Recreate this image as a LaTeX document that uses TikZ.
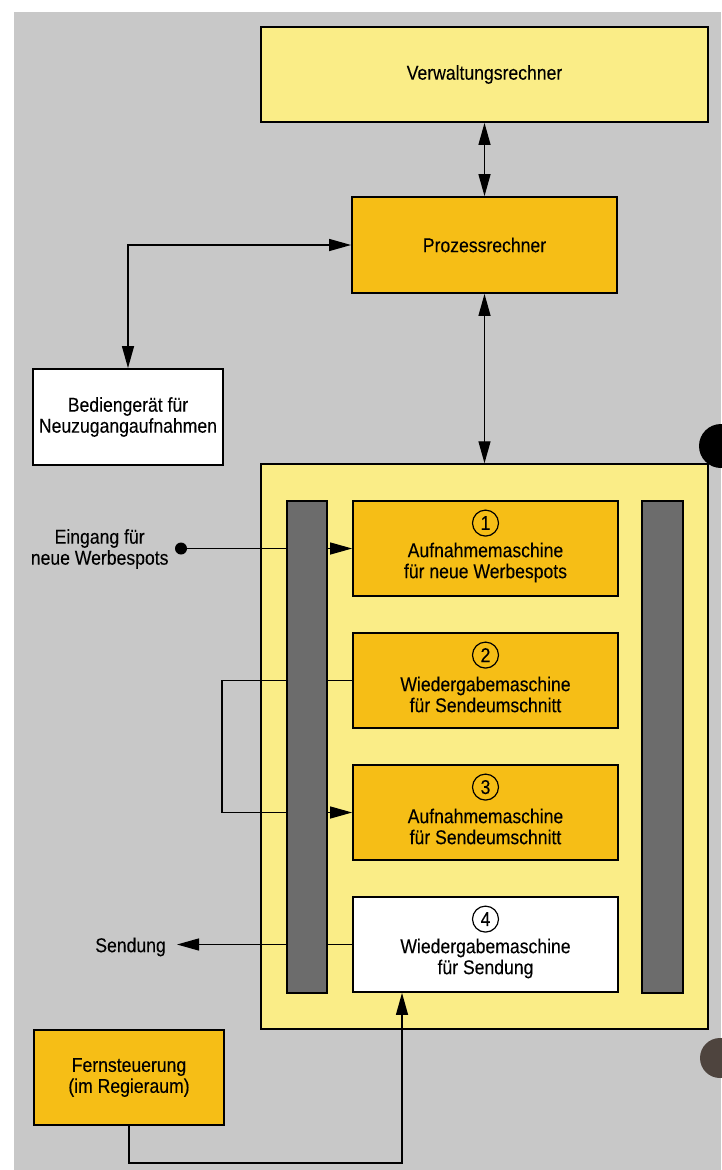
\documentclass[tikz,border=0pt]{standalone}
\usepackage{fontspec}
\setmainfont{Liberation Sans}[FakeStretch=0.88,FakeBold=0.1]
\usetikzlibrary{arrows.meta}
\definecolor{bggray}{RGB}{200,200,200}
\definecolor{paleyel}{RGB}{250,237,135}
\definecolor{boxorange}{RGB}{246,190,22}
\definecolor{bargray}{RGB}{108,108,108}
\definecolor{holebrown}{RGB}{78,68,62}
\begin{document}
\begin{tikzpicture}[x=1pt,y=-1pt,
  every node/.style={font=\fontsize{20}{21}\selectfont, text=black},
  box/.style={draw=black, line width=1.8pt, rectangle, inner sep=0pt, align=center},
  palebox/.style={box, fill=paleyel},
  orangebox/.style={box, fill=boxorange},
  whitebox/.style={box, fill=white},
  machine/.style={minimum width=265pt, minimum height=95pt},
  barbox/.style={draw=black, line width=1.5pt, fill=bargray, minimum width=40pt, minimum height=492pt, inner sep=0pt},
  numc/.style={circle, draw=black, line width=1.2pt, minimum size=26pt, inner sep=0pt},
  txt/.style={align=center},
  conn/.style={line width=1.3pt, draw=black},
  tip/.style={-{Triangle[length=22pt,width=12pt]}},
  tips/.style={{Triangle[length=22pt,width=12pt]}-{Triangle[length=22pt,width=12pt]}}
]
\useasboundingbox (0,0) rectangle (721,1170);
\fill[white] (0,0) rectangle (721,1170);
\fill[bggray] (14,12) rectangle (721,1170);

% container
\node[palebox, line width=1.5pt, minimum width=447pt, minimum height=565pt] (C) at (484.5,746.5) {};

% main boxes
\node[palebox, minimum width=447pt, minimum height=95pt] (V) at (484.5,74.5) {Verwaltungsrechner};
\node[orangebox, minimum width=265pt, minimum height=96pt] (P) at (484.5,245) {Prozessrechner};
\node[whitebox, minimum width=190pt, minimum height=96pt] (B) at (128,417) {Bedienger\"at f\"ur\\Neuzugangaufnahmen};
\node[orangebox, minimum width=190pt, minimum height=95pt] (F) at (129,1077.5) {Fernsteuerung\\(im Regieraum)};

% machines
\node[orangebox, machine] (b1) at (485.5,548.5) {};
\node[orangebox, machine] (b2) at (485.5,680.5) {};
\node[orangebox, machine] (b3) at (485.5,812.5) {};
\node[whitebox, machine] (b4) at (485.5,944.5) {};

\node[numc] (n1) at ([yshift=-23pt]b1.north) {1};
\node[numc] (n2) at ([yshift=-23pt]b2.north) {2};
\node[numc] (n3) at ([yshift=-23pt]b3.north) {3};
\node[numc] (n4) at ([yshift=-23pt]b4.north) {4};

\node[txt] (t1) at ([yshift=-14pt]b1.center) {Aufnahmemaschine\\f\"ur neue Werbespots};
\node[txt] (t2) at ([yshift=-14pt]b2.center) {Wiedergabemaschine\\f\"ur Sendeumschnitt};
\node[txt] (t3) at ([yshift=-14pt]b3.center) {Aufnahmemaschine\\f\"ur Sendeumschnitt};
\node[txt] (t4) at ([yshift=-14pt]b4.center) {Wiedergabemaschine\\f\"ur Sendung};

% external labels
\node[circle, fill=black, inner sep=0pt, minimum size=12pt] (E) at (181,548.5) {};
\node[txt, anchor=east] (El) at (172,549) {Eingang f\"ur\\neue Werbespots};
\node[anchor=east, inner xsep=11pt] (S) at (177,947) {Sendung};
\coordinate (b4in) at ([xshift=-83.5pt]b4.south);

% connectors
\draw[conn, tips] (V.south) -- (P.north);
\draw[conn, tips] (P.south) -- (C.north);
\draw[conn, tips] (B.north) |- (P.west);
\draw[conn, tip] (E) -- (b1.west);
\draw[conn, tip] (b2.west) -- ++(-130,0) |- (b3.west);
\draw[conn, tip] (b4.west) -- (b4.west -| S.east);
\draw[conn, tip] (F.south) -- ++(0,37) -| (b4in);

% bars (over connectors)
\node[barbox] (L) at (307,747) {};
\node[barbox, minimum width=41pt] (R) at (662.5,747) {};

% punch holes of the scan
\fill[black] (721,446) circle (22);
\fill[holebrown] (720,1058) circle (20);
\end{tikzpicture}
\end{document}
